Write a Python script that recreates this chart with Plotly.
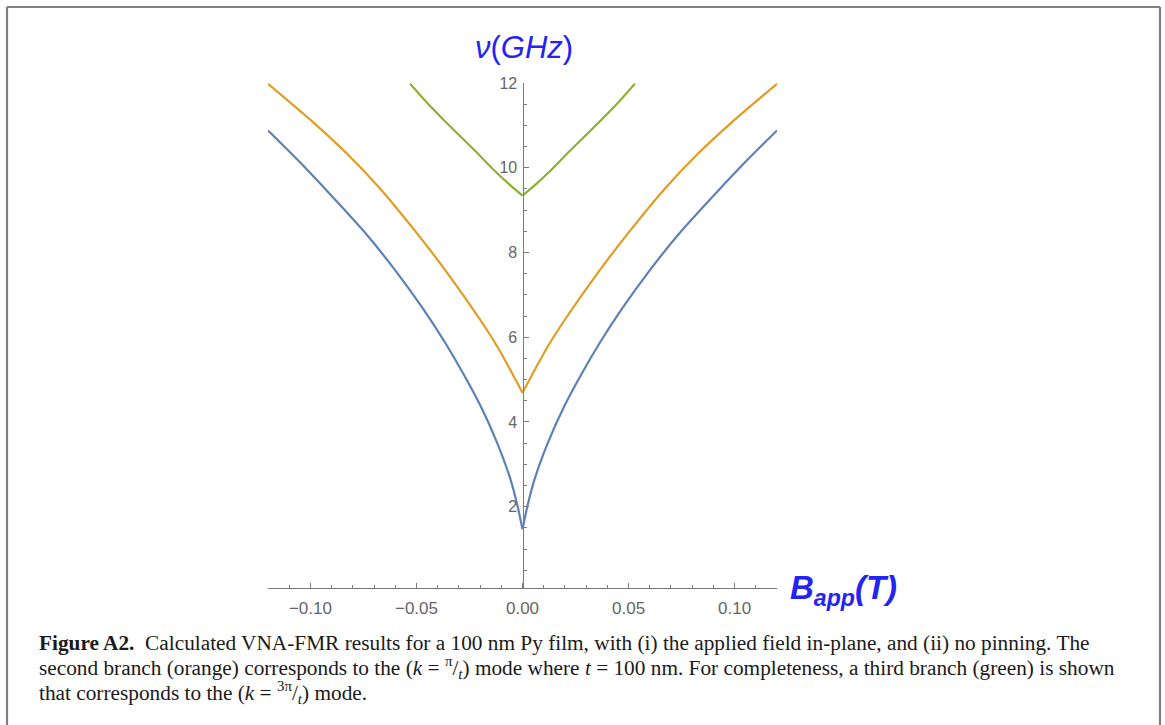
import plotly.graph_objects as go

# ---------------- data ----------------
# field B_app (T) and frequency nu (GHz), branches left / right of B = 0
blue_left_B = [-0.12, -0.1063, -0.0906, -0.0748, -0.0591, -0.0466, -0.0366, -0.0277, -0.0198, -0.0119, -0.0057, -0.0025, 0.0]
blue_left_f = [10.88, 10.2, 9.37, 8.5, 7.52, 6.65, 5.88, 5.12, 4.38, 3.5, 2.65, 2.05, 1.47]
blue_right_B = [0.0, 0.0025, 0.0057, 0.0119, 0.0198, 0.0277, 0.0366, 0.0466, 0.0591, 0.0748, 0.0906, 0.1063, 0.12]
blue_right_f = [1.47, 2.05, 2.65, 3.5, 4.38, 5.12, 5.88, 6.65, 7.52, 8.5, 9.37, 10.2, 10.88]

orange_left_B = [-0.12, -0.0984, -0.0827, -0.067, -0.0513, -0.0355, -0.0198, -0.0119, -0.0046, 0.0]
orange_left_f = [11.98, 11.06, 10.33, 9.5, 8.55, 7.52, 6.4, 5.78, 5.12, 4.69]
orange_right_B = [0.0, 0.0046, 0.0119, 0.0198, 0.0355, 0.0513, 0.067, 0.0827, 0.0984, 0.12]
orange_right_f = [4.69, 5.12, 5.78, 6.4, 7.52, 8.55, 9.5, 10.33, 11.06, 11.98]

green_left_B = [-0.053, -0.0448, -0.0376, -0.0291, -0.0218, -0.0134, -0.0061, 0.0]
green_left_f = [11.98, 11.52, 11.15, 10.73, 10.37, 9.94, 9.6, 9.34]
green_right_B = [0.0, 0.0061, 0.0134, 0.0218, 0.0291, 0.0376, 0.0448, 0.053]
green_right_f = [9.34, 9.6, 9.94, 10.37, 10.73, 11.15, 11.52, 11.98]

x_ticks = [-0.10, -0.05, 0.00, 0.05, 0.10]
y_ticks = [2, 4, 6, 8, 10, 12]

caption_lines = [
    "<b>Figure A2.</b>\u00a0\u00a0Calculated VNA-FMR results for a 100 nm Py film, with (i) the applied field in-plane, and (ii) no pinning. The",
    "second branch (orange) corresponds to the (<i>k</i> = <sup>π</sup>/<sub><i>t</i></sub>) mode where <i>t</i> = 100 nm. For completeness, a third branch (green) is shown",
    "that corresponds to the (<i>k</i> = <sup>3π</sup>/<sub><i>t</i></sub>) mode.",
]

BLUE = "#5E81B5"
ORANGE = "#E19C24"
GREEN = "#8FB032"
AXIS = "#7a7a7a"
TICKFONT = "#666666"
LABEL = "#2424f2"

W, H = 1165, 725
ML, MR, MT, MB = 268, 388, 83, 137
PW, PH = W - ML - MR, H - MT - MB


def px(x):
    return (x - ML) / PW


def py(y):
    return (H - MB - y) / PH


fig = go.Figure()
series = [
    (blue_left_B, blue_left_f, BLUE), (blue_right_B, blue_right_f, BLUE),
    (orange_left_B, orange_left_f, ORANGE), (orange_right_B, orange_right_f, ORANGE),
    (green_left_B, green_left_f, GREEN), (green_right_B, green_right_f, GREEN),
]
for bx, fy, c in series:
    fig.add_trace(go.Scatter(x=bx, y=fy, mode="lines",
                             line=dict(color=c, width=2.2, shape="spline", smoothing=0.7),
                             showlegend=False, hoverinfo="skip"))

fig.update_layout(
    width=W, height=H,
    margin=dict(l=ML, r=MR, t=MT, b=MB, pad=0),
    paper_bgcolor="white", plot_bgcolor="white",
    showlegend=False,
    xaxis=dict(range=[-0.12, 0.12], showgrid=False, zeroline=False,
               showline=True, linecolor=AXIS, linewidth=1.2,
               ticks="inside", ticklen=5, tickcolor=AXIS, tickwidth=1,
               tickvals=x_ticks, tickformat=".2f",
               minor=dict(dtick=0.01, tick0=0, ticks="inside", ticklen=3, tickcolor=AXIS),
               tickfont=dict(family="Liberation Sans, Arial", size=17, color=TICKFONT),
               ticklabelstandoff=4),
    yaxis=dict(range=[0.08, 12], showgrid=False, zeroline=False,
               anchor="free", position=0.5, side="left",
               showline=True, linecolor=AXIS, linewidth=1.2,
               ticks="inside", ticklen=5, tickcolor=AXIS, tickwidth=1,
               tickvals=y_ticks,
               minor=dict(dtick=0.5, tick0=0, ticks="inside", ticklen=3, tickcolor=AXIS),
               tickfont=dict(family="Liberation Sans, Arial", size=16, color=TICKFONT),
               ticklabelstandoff=2),
)

annotations = [
    dict(text="<i>ν</i>(<i>GHz</i>)", x=px(524), y=py(48), xref="paper", yref="paper",
         xanchor="center", yanchor="middle", showarrow=False,
         font=dict(family="Liberation Sans, Arial", size=31, color=LABEL)),
    dict(text="<b><i>B<sub>app</sub>(T)</i></b>", x=px(788), y=py(590), xref="paper", yref="paper",
         xanchor="left", yanchor="middle", showarrow=False,
         font=dict(family="Liberation Sans, Arial", size=33, color=LABEL)),
]
for i, line in enumerate(caption_lines):
    annotations.append(dict(text=line, x=px(37), y=py(643 + 24.5 * i), xref="paper", yref="paper",
                            xanchor="left", yanchor="middle", showarrow=False, align="left",
                            font=dict(family="Liberation Serif, Times New Roman, serif", size=21.3,
                                      color="#1a1a1a")))
fig.update_layout(annotations=annotations)

# figure frame (grey box)
frame = dict(type="line", xref="paper", yref="paper", line=dict(color="#808080", width=2.2))
fig.add_shape(**frame, x0=px(7), y0=py(7), x1=px(1160), y1=py(7))
fig.add_shape(**frame, x0=px(7), y0=py(7), x1=px(7), y1=py(740))
fig.add_shape(**frame, x0=px(1160), y0=py(7), x1=px(1160), y1=py(740))

fig.write_html("out.html", config={"displayModeBar": False},
               post_script="document.body.style.margin='0';")
